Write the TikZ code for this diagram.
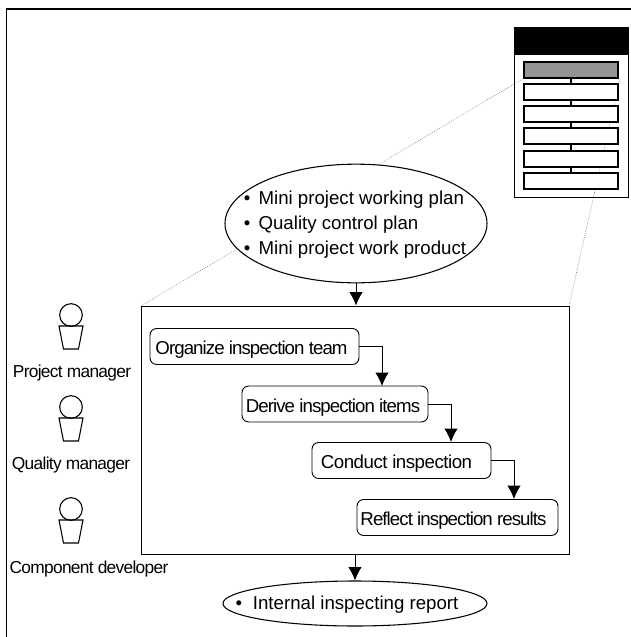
\documentclass[tikz,border=0pt]{standalone}
\usepackage{fontspec}
\setmainfont{Liberation Sans}
\usetikzlibrary{shapes.geometric,arrows.meta}
\newfontfamily\tightfont[LetterSpace=-5]{Liberation Sans}
\newfontfamily\loosefont[LetterSpace=-2.5]{Liberation Sans}
\newfontfamily\rolefont[LetterSpace=-4]{Liberation Sans}
\tikzset{
  stepbox/.style={draw, rounded corners=5pt, line width=0.7pt, minimum height=27pt, inner sep=0pt, text height=12.4pt, text depth=0pt, font=\tightfont\fontsize{14}{16}\selectfont},
  docbox/.style={draw, line width=1pt, fill=white, minimum width=70.5pt, minimum height=12pt, inner sep=0pt},
  docellipse/.style={draw, ellipse, line width=0.8pt, inner sep=0pt},
  actorhead/.style={draw, circle, line width=0.8pt, fill=white, minimum size=17pt, inner sep=0pt},
  actorbody/.pic={\draw[line width=0.8pt] (-12,0) -- (12,0) -- (7.5,23) -- (-7.5,23) -- cycle;},
  rolelabel/.style={font=\rolefont\fontsize{13}{15}\selectfont, inner sep=0pt},
  guide/.style={densely dotted, gray, line width=0.5pt},
  flow/.style={-{Latex[length=10pt,width=10pt]}, line width=0.7pt}
}
\begin{document}
\begin{tikzpicture}[x=0.75pt, y=-0.75pt]
      \useasboundingbox (0,0) rectangle (631,637);
      % outer frame
      \coordinate (framea) at (6.5,637);
      \coordinate (frameb) at (6.5,9);
      \coordinate (framec) at (631,9);
      \draw[line width=0.8pt] (framea) -- (frameb) -- (framec);
      % stack of steps, top right
      \node (docbody) [draw, line width=0.6pt, minimum width=85.5pt, minimum height=126.75pt, inner sep=0pt] at (571,112.5) {};
      \node (dochead) [draw, fill=black, minimum width=85.5pt, minimum height=20pt, inner sep=0pt] at (571,40.5) {};
      \coordinate (zoomtl) at (524,78);
      \coordinate (zoomtr) at (620,79);
      \coordinate (mainnw) at (141,306);
      \coordinate (mainne) at (569,306);
      \draw[guide] (zoomtl) -- (mainnw);
      \draw[guide] (zoomtr) -- (mainne);
      \node (slota) [docbox, fill=black!42] at (571,70) {};
      \node (slotb) [docbox] at (571,92) {};
      \node (slotc) [docbox] at (571,114) {};
      \node (slotd) [docbox] at (571,136) {};
      \node (slote) [docbox] at (571,159) {};
      \node (slotf) [docbox] at (571,181) {};
      \path[line width=1pt]
        (slota) edge (slotb)
        (slotb) edge (slotc)
        (slotc) edge (slotd)
        (slotd) edge (slote)
        (slote) edge (slotf);
      % input
      \node (input) [docellipse, fill=white, minimum width=196.5pt, minimum height=89pt] at (356,223.5) {};
      \node (inputtext) [inner sep=0pt, font=\fontsize{14}{18.75}\selectfont, align=left] at (355,225)
        {\makebox[11pt][l]{\textbullet}Mini project working plan\\
         \makebox[11pt][l]{\textbullet}Quality control plan\\
         \makebox[11pt][l]{\textbullet}Mini project work product};
      % main box
      \node (main) [draw, line width=0.7pt, minimum width=321pt, minimum height=186pt, inner sep=0pt] at (355,430) {};
      \node (organize) [stepbox, minimum width=156.75pt] at (254.5,346.5) {Organize inspection team\hspace*{4.5pt}};
      \node (derive) [stepbox, minimum width=139.5pt] at (335,404) {Derive inspection items\hspace*{3pt}};
      \node (conduct) [stepbox, minimum width=134.25pt, font=\loosefont\fontsize{14}{16}\selectfont] at (401.5,460.5) {Conduct inspection\hspace*{7.5pt}};
      \node (reflect) [stepbox, minimum width=150.75pt] at (457.5,517.5) {Reflect inspection results\hspace*{6pt}};
      \draw[flow] (organize.east) -| (382,386);
      \draw[flow] (derive.east) -| (451,442);
      \draw[flow] (conduct.east) -| (514,499);
      \draw[flow] (input.south) -- (main.north -| input.south);
      % output
      \node (report) [docellipse, minimum width=198pt, minimum height=33.75pt] at (355,603.5) {};
      \node (reporttext) [inner sep=0pt, font=\fontsize{14}{16}\selectfont] at (347,605)
        {\makebox[13pt][l]{\textbullet}Internal inspecting report};
      \draw[flow] (main.south -| report.north) -- (report.north);
      % roles
      \node (heada) [actorhead] at (71,315) {};
      \pic at (71,326) {actorbody};
      \node (rolea) [rolelabel] at (72,373) {Project manager};
      \node (headb) [actorhead] at (71,407) {};
      \pic at (71,418) {actorbody};
      \node (roleb) [rolelabel] at (71,465) {Quality manager};
      \node (headc) [actorhead] at (71,509) {};
      \pic at (71,520) {actorbody};
      \node (rolec) [rolelabel] at (89,569) {Component developer};
\end{tikzpicture}
\end{document}
